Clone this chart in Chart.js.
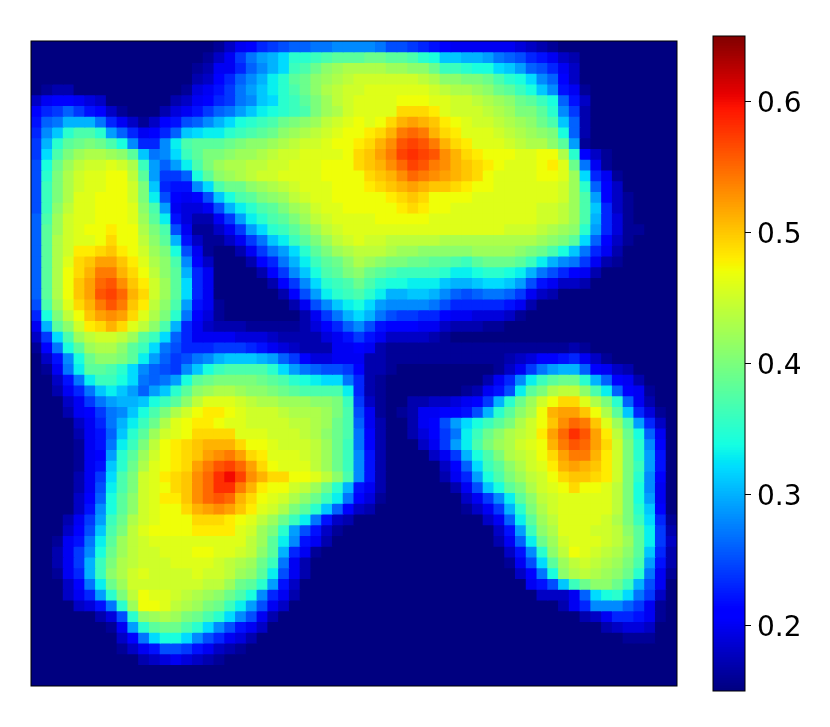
<!DOCTYPE html>
<html>
<head>
<meta charset="utf-8">
<style>
  body { margin: 0; background: #fff; }
  canvas { position: absolute; left: 0; top: 0; }
</style>
<script src="https://cdn.jsdelivr.net/npm/chart.js@4"></script>
</head>
<body>
<canvas id="heatChart" width="830" height="727"></canvas>
<canvas id="barChart" width="830" height="727"></canvas>
<script>
// cell values, in hundredths, top row first
const heatRows = [
[15,15,15,15,15,15,15,15,15,15, 15,15,15,15,15,15,15,16,18,20, 21,23,24,25,26,26,27,27,28,28, 28,28,27,25,25,24,23,22,21,20, 20,20,20,20,20,19,18,17,16,15, 15,15,15,15,15,15,15,15,15,15],
[15,15,15,15,15,15,15,15,15,15, 15,15,15,15,15,15,16,18,20,24, 27,29,30,32,35,35,36,37,38,38, 38,39,39,38,38,37,35,34,31,31, 30,30,29,27,26,25,23,22,20,18, 17,15,15,15,15,15,15,15,15,15],
[15,15,15,15,15,15,15,15,15,15, 15,15,15,15,15,16,17,20,20,23, 26,28,30,32,36,37,39,41,42,43, 43,43,43,42,42,41,41,39,36,36, 35,34,34,32,31,29,26,25,23,20, 18,15,15,15,15,15,15,15,15,15],
[15,15,15,15,15,15,15,15,15,15, 15,15,15,15,15,17,18,21,23,26, 28,30,33,35,38,39,41,42,43,44, 45,45,45,45,45,45,44,43,41,41, 40,40,39,37,35,34,32,28,26,21, 18,15,15,15,15,15,15,15,15,15],
[15,16,17,17,15,15,15,15,15,15, 15,15,15,15,16,19,20,22,24,27, 29,31,33,35,37,39,41,43,44,45, 45,46,46,46,46,46,46,45,44,43, 43,42,41,39,38,36,34,31,28,22, 20,16,15,15,15,15,15,15,15,15],
[18,20,21,21,20,19,18,15,15,15, 15,15,15,17,18,20,21,23,24,27, 28,31,32,35,36,38,40,42,44,45, 46,46,46,46,47,47,47,46,46,45, 45,44,43,42,41,39,38,36,34,26, 22,18,15,15,15,15,15,15,15,15],
[21,23,24,26,24,22,21,18,16,15, 15,15,17,19,20,22,24,26,27,29, 31,33,34,35,36,37,40,42,43,45, 46,46,46,46,49,49,49,48,46,45, 45,45,44,43,42,40,40,38,35,28, 24,17,15,15,15,15,15,15,15,15],
[22,26,27,30,30,30,27,23,20,18, 16,18,21,22,25,26,28,30,32,34, 35,36,37,39,40,41,42,44,45,46, 47,46,47,49,51,52,51,50,48,47, 46,45,45,44,43,42,41,39,37,31, 26,17,15,15,15,15,15,15,15,15],
[23,28,31,35,37,37,35,29,26,23, 20,21,23,26,31,32,33,33,35,36, 37,38,39,41,42,43,44,45,46,47, 47,48,49,51,54,55,54,51,49,48, 46,46,46,45,44,43,42,41,40,34, 26,17,15,15,15,15,15,15,15,15],
[24,30,35,38,39,40,39,37,34,28, 23,23,28,33,37,38,38,38,39,40, 41,41,42,43,44,45,45,46,47,47, 48,49,51,53,56,57,56,54,51,49, 48,46,46,46,45,44,43,43,41,38, 29,16,15,15,15,15,15,15,15,15],
[24,32,37,40,42,43,43,42,41,38, 31,27,28,32,36,38,40,40,41,42, 42,43,44,45,45,46,46,46,46,47, 49,50,52,54,57,58,57,56,53,51, 49,48,47,47,47,46,46,47,47,43, 35,21,18,16,15,15,15,15,15,15],
[25,34,39,42,44,45,45,46,45,43, 36,29,26,29,33,37,40,42,43,43, 44,44,45,45,46,46,46,47,47,47, 49,50,51,53,55,57,56,54,53,51, 50,49,48,47,46,46,46,47,48,46, 39,27,20,16,15,15,15,15,15,15],
[25,35,40,43,45,46,46,47,47,44, 38,29,24,24,26,34,38,41,42,43, 44,45,45,46,46,46,46,47,47,47, 47,49,50,51,53,55,54,53,52,51, 50,49,47,46,46,46,46,47,47,46, 42,32,23,20,16,15,15,15,15,15],
[25,36,40,43,45,46,46,47,47,45, 40,31,23,22,22,28,32,37,39,39, 41,42,43,44,45,46,46,46,47,47, 47,48,49,50,51,52,51,50,50,49, 48,47,47,46,46,46,46,46,46,45, 42,35,26,21,18,15,15,15,15,15],
[25,36,40,43,46,46,47,47,47,45, 40,33,25,21,20,21,25,31,34,37, 38,40,41,42,44,45,46,46,47,47, 47,47,47,48,49,50,49,47,47,47, 47,46,46,46,46,46,46,46,46,45, 42,37,29,21,18,16,15,15,15,15],
[25,36,41,44,46,46,47,47,47,46, 41,37,29,20,19,19,20,25,30,33, 35,37,38,40,42,43,45,46,46,47, 47,47,47,47,48,49,48,47,47,46, 46,46,46,46,46,46,46,45,45,44, 42,37,31,23,18,16,15,15,15,15],
[26,37,42,45,46,46,47,47,47,46, 42,38,33,22,19,17,17,20,24,29, 33,35,37,38,40,42,44,45,46,46, 46,46,47,47,47,47,47,46,46,46, 46,46,46,46,46,46,46,45,45,44, 42,37,30,23,19,16,15,15,15,15],
[26,38,42,45,46,47,47,48,47,47, 43,40,37,25,20,16,16,18,20,24, 29,32,35,36,38,40,42,44,45,46, 46,46,46,46,46,46,46,46,46,46, 46,46,46,46,45,45,45,44,43,42, 41,35,29,23,19,16,16,15,15,15],
[26,38,43,45,46,46,47,49,47,47, 44,41,38,30,22,18,16,16,18,20, 24,27,31,33,36,38,40,42,44,45, 46,45,45,44,44,44,44,44,43,43, 43,43,43,43,43,43,43,42,41,40, 38,32,26,21,18,16,15,15,15,15],
[26,38,43,45,48,48,49,50,48,47, 45,42,40,34,25,20,16,15,15,17, 20,24,27,29,32,35,38,40,42,43, 44,44,44,43,42,42,41,41,41,41, 41,42,42,42,42,41,40,39,37,34, 31,27,23,20,17,15,15,15,15,15],
[26,38,43,46,49,50,52,52,50,48, 46,43,41,37,28,21,18,15,15,15, 17,21,23,27,30,33,36,38,39,41, 43,42,41,40,40,39,39,38,38,37, 36,38,39,39,39,38,36,33,30,28, 27,24,20,17,16,15,15,15,15,15],
[26,38,43,47,49,51,54,54,51,49, 47,44,41,38,30,23,20,15,15,15, 15,17,21,24,28,31,34,37,38,40, 41,39,38,37,36,36,36,36,35,33, 33,34,35,35,34,33,30,27,25,23, 21,20,17,15,15,15,15,15,15,15],
[26,38,43,47,50,52,55,56,53,50, 48,45,42,38,32,23,20,15,15,15, 15,15,17,21,24,28,32,35,36,37, 39,37,35,34,34,33,33,33,31,30, 30,31,32,32,31,29,25,22,20,18, 18,17,15,15,15,15,15,15,15,15],
[26,38,43,47,50,52,56,57,55,51, 49,45,42,38,32,23,20,15,15,15, 15,15,15,17,21,25,29,33,35,36, 37,35,33,30,30,31,31,30,28,26, 25,26,27,27,26,24,20,18,17,15, 15,15,15,15,15,15,15,15,15,15],
[25,37,42,46,49,51,54,56,54,50, 48,44,41,37,29,22,20,16,15,15, 15,15,15,15,17,20,25,28,31,33, 34,32,29,28,28,28,28,27,25,23, 23,23,23,23,22,20,17,15,15,15, 15,15,15,15,15,15,15,15,15,15],
[23,34,40,44,47,50,52,53,52,49, 46,43,40,35,27,21,19,16,15,15, 15,15,15,15,15,17,20,24,27,30, 32,30,27,25,24,24,23,23,21,20, 20,19,19,19,18,16,15,15,15,15, 15,15,15,15,15,15,15,15,15,15],
[20,30,38,41,45,48,49,51,49,46, 44,41,37,30,23,20,18,17,17,17, 16,16,16,16,16,17,19,21,23,26, 28,25,22,21,21,21,20,20,18,17, 17,17,16,16,15,15,15,15,15,15, 15,15,15,15,15,15,15,15,15,15],
[18,24,32,37,42,44,45,45,44,42, 38,36,32,26,23,20,20,20,20,19, 19,19,18,17,17,17,17,19,20,22, 24,22,20,18,18,18,18,17,16,15, 15,15,15,15,15,15,15,15,15,15, 15,15,15,15,15,15,15,15,15,15],
[16,21,27,34,38,42,43,43,41,38, 36,32,27,25,23,23,23,24,24,24, 23,22,20,19,18,17,17,17,20,20, 21,20,17,16,16,16,16,16,16,16, 16,16,16,16,16,16,16,16,16,16, 17,16,15,15,15,15,15,15,15,15],
[15,18,22,28,34,39,41,41,40,38, 33,29,26,24,25,27,28,30,31,31, 31,30,29,26,24,21,19,19,20,20, 20,17,17,16,16,16,16,16,16,16, 16,16,16,16,17,18,19,21,21,22, 23,20,18,16,15,15,15,15,15,15],
[15,16,20,27,33,38,38,37,35,32, 28,26,25,24,28,31,34,36,37,37, 37,37,35,32,29,27,26,25,25,24, 21,17,17,16,15,15,15,15,15,15, 15,15,15,16,18,20,24,27,29,30, 30,26,21,20,18,17,15,15,15,15],
[15,15,18,22,27,33,36,36,34,32, 27,26,27,29,34,38,39,40,40,40, 40,39,38,37,35,34,33,32,32,27, 23,17,16,15,15,15,15,15,15,15, 15,15,17,20,23,28,33,36,38,39, 39,35,30,26,21,20,17,15,15,15],
[15,15,17,20,23,27,31,33,31,29, 26,29,31,35,38,41,42,43,43,42, 41,41,40,39,38,37,37,37,37,33, 23,17,16,15,15,15,15,15,15,15, 16,17,20,22,25,33,38,40,43,44, 44,41,37,33,26,21,20,16,15,15],
[15,15,15,18,20,24,27,29,30,30, 31,34,36,38,41,44,46,46,46,45, 44,43,43,42,42,42,41,41,40,36, 24,18,16,15,15,17,17,18,18,19, 20,21,24,30,35,39,42,45,47,49, 49,46,43,40,35,26,20,17,15,15],
[15,15,15,17,20,21,24,27,28,31, 34,37,40,43,45,47,48,48,47,46, 45,45,45,44,43,43,43,42,40,37, 25,20,16,15,16,17,20,20,21,21, 22,25,30,35,38,41,43,47,51,52, 52,50,47,43,38,31,23,19,16,15],
[15,15,15,15,18,20,23,27,30,33, 36,39,43,46,47,48,48,47,46,46, 45,45,45,45,44,44,43,42,39,37, 26,20,17,15,15,17,20,21,25,29, 32,34,36,38,40,43,45,47,50,53, 55,54,50,46,42,37,29,23,18,15],
[15,15,15,15,17,20,22,26,31,35, 38,42,45,46,47,49,49,49,49,46, 46,46,45,45,45,44,43,41,39,37, 27,21,17,15,15,17,19,21,24,27, 33,36,39,41,43,44,45,48,52,55, 58,56,52,48,44,39,34,26,20,15],
[15,15,15,15,16,20,22,27,33,36, 40,44,47,48,49,50,51,51,51,49, 47,47,46,45,45,45,44,42,39,36, 27,21,17,15,15,15,18,20,24,29, 33,37,40,42,43,45,46,47,51,54, 56,55,52,49,45,40,35,28,21,15],
[15,15,15,15,16,20,21,29,35,38, 42,45,47,48,49,50,52,53,54,52, 49,48,46,46,46,45,44,42,39,36, 28,22,17,15,15,15,15,18,20,24, 30,34,37,40,43,44,45,47,49,52, 54,54,51,48,45,40,35,29,22,15],
[15,15,15,15,16,20,22,31,35,39, 43,46,47,48,49,52,54,56,57,55, 52,49,47,46,46,46,44,42,39,36, 28,22,17,15,15,15,15,15,18,21, 26,32,36,38,41,43,45,46,48,51, 52,51,50,48,45,40,36,29,22,15],
[15,15,15,15,17,20,24,32,37,40, 45,46,48,49,50,53,55,58,60,57, 53,51,49,49,47,47,46,44,41,37, 28,22,17,15,15,15,15,15,17,20, 23,29,34,37,40,42,44,45,47,49, 50,50,49,48,45,40,35,28,21,15],
[15,15,15,15,17,20,25,33,37,40, 45,46,47,49,50,53,55,58,58,54, 51,48,47,47,45,44,42,39,35,30, 22,20,17,15,15,15,15,15,15,17, 20,25,31,34,38,40,43,45,46,47, 49,47,47,46,44,40,34,28,20,15],
[15,15,15,15,18,21,26,34,38,41, 45,46,48,48,50,53,55,56,55,51, 49,47,46,45,43,41,39,36,33,27, 21,19,16,15,15,15,15,15,15,15, 18,20,24,28,33,38,41,44,45,46, 46,46,46,46,44,40,34,29,20,15],
[15,15,15,15,18,22,28,34,38,41, 45,46,47,47,49,51,52,53,52,50, 48,46,45,43,40,38,35,31,26,21, 18,17,15,15,15,15,15,15,15,15, 16,18,20,24,30,35,40,43,45,46, 46,46,46,46,44,40,35,31,21,15],
[15,15,15,17,20,24,29,36,39,43, 45,46,47,47,47,49,49,49,48,47, 46,44,42,39,36,33,27,22,18,17, 15,15,15,15,15,15,15,15,15,15, 15,15,18,20,26,33,38,42,44,46, 46,46,46,45,43,40,36,32,23,16],
[15,15,15,18,21,25,31,37,40,44, 46,47,47,47,47,48,48,48,48,46, 45,42,40,35,29,25,22,18,16,15, 15,15,15,15,15,15,15,15,15,15, 15,15,15,18,22,29,36,41,43,46, 46,46,45,45,44,41,38,33,24,17],
[15,15,16,20,22,27,33,38,42,44, 45,46,46,46,46,46,46,46,46,46, 44,42,38,33,28,22,20,17,15,15, 15,15,15,15,15,15,15,15,15,15, 15,15,15,17,20,26,33,39,42,45, 46,46,46,45,44,42,38,33,24,18],
[15,15,17,20,24,28,34,39,42,44, 45,45,46,46,46,47,47,46,46,45, 44,41,38,30,23,20,16,15,15,15, 15,15,15,15,15,15,15,15,15,15, 15,15,15,15,18,22,28,35,41,44, 47,46,45,44,43,41,38,31,23,17],
[15,15,17,20,24,30,36,40,43,44, 45,45,45,46,46,46,46,45,44,43, 42,39,36,27,20,17,15,15,15,15, 15,15,15,15,15,15,15,15,15,15, 15,15,15,15,16,20,25,32,38,42, 44,45,44,43,42,40,37,29,22,17],
[15,15,16,20,23,30,36,41,43,45, 46,45,45,45,45,46,45,45,44,42, 41,38,33,25,20,17,15,15,15,15, 15,15,15,15,15,15,15,15,15,15, 15,15,15,15,15,18,21,27,34,41, 43,44,43,42,41,39,35,27,20,16],
[15,15,15,18,21,27,33,39,42,45, 45,45,45,45,45,45,44,44,42,39, 38,35,29,22,18,15,15,15,15,15, 15,15,15,15,15,15,15,15,15,15, 15,15,15,15,15,15,20,22,25,31, 36,39,41,41,39,36,30,25,20,15],
[15,15,15,18,20,23,29,35,40,44, 47,46,46,45,44,43,42,41,39,37, 34,28,23,20,17,15,15,15,15,15, 15,15,15,15,15,15,15,15,15,15, 15,15,15,15,15,15,15,18,18,18, 20,26,32,34,35,32,27,24,18,15],
[15,15,15,15,18,19,22,27,35,42, 47,47,46,44,43,42,40,39,36,33, 29,25,20,18,15,15,15,15,15,15, 15,15,15,15,15,15,15,15,15,15, 15,15,15,15,15,15,15,15,15,17, 20,23,28,28,28,26,24,20,16,15],
[15,15,15,15,15,15,17,19,25,35, 41,42,43,42,40,39,37,35,32,28, 25,20,17,15,15,15,15,15,15,15, 15,15,15,15,15,15,15,15,15,15, 15,15,15,15,15,15,15,15,15,15, 15,17,18,20,23,23,22,20,16,15],
[15,15,15,15,15,15,15,16,20,29, 35,38,39,39,37,35,32,28,25,22, 20,18,15,15,15,15,15,15,15,15, 15,15,15,15,15,15,15,15,15,15, 15,15,15,15,15,15,15,15,15,15, 15,15,15,17,18,19,19,18,15,15],
[15,15,15,15,15,15,15,15,18,21, 27,32,34,34,32,28,25,23,20,19, 17,15,15,15,15,15,15,15,15,15, 15,15,15,15,15,15,15,15,15,15, 15,15,15,15,15,15,15,15,15,15, 15,15,15,15,15,16,16,16,15,15],
[15,15,15,15,15,15,15,15,16,18, 20,22,25,25,24,22,20,18,17,16, 15,15,15,15,15,15,15,15,15,15, 15,15,15,15,15,15,15,15,15,15, 15,15,15,15,15,15,15,15,15,15, 15,15,15,15,15,15,15,15,15,15],
[15,15,15,15,15,15,15,15,15,15, 17,18,19,20,19,18,17,16,15,15, 15,15,15,15,15,15,15,15,15,15, 15,15,15,15,15,15,15,15,15,15, 15,15,15,15,15,15,15,15,15,15, 15,15,15,15,15,15,15,15,15,15],
[15,15,15,15,15,15,15,15,15,15, 15,15,15,15,15,15,15,15,15,15, 15,15,15,15,15,15,15,15,15,15, 15,15,15,15,15,15,15,15,15,15, 15,15,15,15,15,15,15,15,15,15, 15,15,15,15,15,15,15,15,15,15],
[15,15,15,15,15,15,15,15,15,15, 15,15,15,15,15,15,15,15,15,15, 15,15,15,15,15,15,15,15,15,15, 15,15,15,15,15,15,15,15,15,15, 15,15,15,15,15,15,15,15,15,15, 15,15,15,15,15,15,15,15,15,15]
];
const colorMin = 0.15;
const colorMax = 0.65;
const barTicks = [0.2, 0.3, 0.4, 0.5, 0.6];

const columns = heatRows[0].map((v, i) => i);

// matplotlib jet
function interp(stops, t) {
    for (let i = 1; i < stops.length; i++) {
        if (t <= stops[i][0]) {
            const a = stops[i - 1], b = stops[i];
            return a[1] + (b[1] - a[1]) * (t - a[0]) / (b[0] - a[0]);
        }
    }
    return stops[stops.length - 1][1];
}
function jet(v) {
    const t = Math.min(1, Math.max(0, (v - colorMin) / (colorMax - colorMin)));
    const r = interp([[0, 0], [0.35, 0], [0.66, 1], [0.89, 1], [1, 0.5]], t);
    const g = interp([[0, 0], [0.125, 0], [0.375, 1], [0.64, 1], [0.91, 0], [1, 0]], t);
    const b = interp([[0, 0.5], [0.11, 1], [0.34, 1], [0.65, 0], [1, 0]], t);
    return `rgb(${Math.round(r * 255)},${Math.round(g * 255)},${Math.round(b * 255)})`;
}

// black frame round the plot area
const framePlugin = {
    id: 'frame',
    afterDraw(chart) {
        const { ctx, chartArea: a } = chart;
        ctx.save();
        ctx.strokeStyle = '#000';
        ctx.lineWidth = 1;
        ctx.strokeRect(a.left, a.top, a.right - a.left, a.bottom - a.top);
        ctx.restore();
    }
};

new Chart(document.getElementById('heatChart'), {
    type: 'bar',
    data: {
        labels: columns,
        datasets: heatRows.map(row => ({
            data: row.map(() => 1),
            backgroundColor: row.map(v => jet(v / 100)),
            barPercentage: 1,
            categoryPercentage: 1,
            inflateAmount: 0.5
        }))
    },
    options: {
        responsive: false,
        animation: false,
        layout: { padding: { left: 31, top: 41, right: 153, bottom: 41 } },
        plugins: { legend: { display: false }, tooltip: { enabled: false } },
        scales: {
            x: { stacked: true, display: false },
            y: { stacked: true, display: false, reverse: true, min: 0, max: heatRows.length }
        }
    },
    plugins: [framePlugin]
});

// colour bar, one floating bar per colour step
const barSteps = [];
for (let i = 0; i < 256; i++) barSteps.push(colorMin + (colorMax - colorMin) * i / 256);

new Chart(document.getElementById('barChart'), {
    type: 'bar',
    data: {
        labels: [''],
        datasets: barSteps.map(lo => ({
            data: [[lo, lo + (colorMax - colorMin) / 256]],
            backgroundColor: jet(lo + (colorMax - colorMin) / 512),
            grouped: false,
            barPercentage: 1,
            categoryPercentage: 1,
            inflateAmount: 0.5
        }))
    },
    options: {
        responsive: false,
        animation: false,
        layout: { padding: { left: 713, top: 36, right: 0, bottom: 36 } },
        plugins: { legend: { display: false }, tooltip: { enabled: false } },
        scales: {
            x: { display: false },
            y: {
                position: 'right',
                min: colorMin,
                max: colorMax,
                afterBuildTicks: scale => { scale.ticks = barTicks.map(value => ({ value })); },
                afterFit: scale => { scale.width = 85; },
                border: { display: false },
                grid: { drawOnChartArea: false, color: '#000', tickLength: 6, tickWidth: 1 },
                ticks: {
                    color: '#000',
                    padding: 6,
                    labelOffset: 3,
                    font: { family: 'DejaVu Sans', size: 28 },
                    callback: v => v.toFixed(1)
                }
            }
        }
    },
    plugins: [framePlugin]
});
</script>
</body>
</html>
